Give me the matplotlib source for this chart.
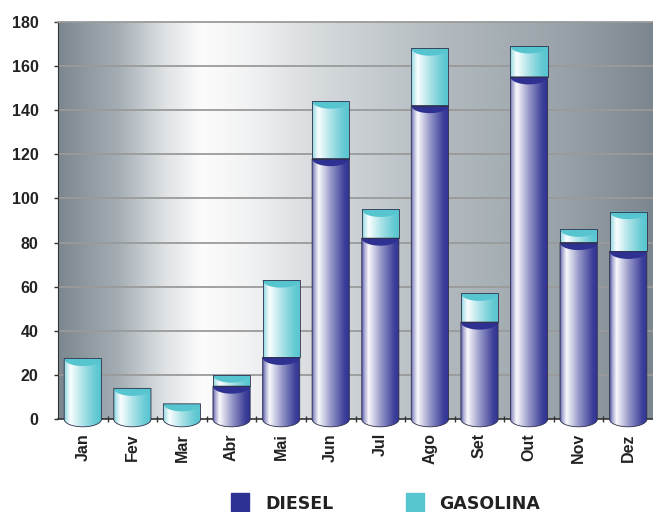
import numpy as np
import matplotlib
matplotlib.use('Agg')
import matplotlib.pyplot as plt
from matplotlib.patches import PathPatch, Polygon, Rectangle
from matplotlib.path import Path
from matplotlib.colors import to_rgb

months = ['Jan', 'Fev', 'Mar', 'Abr', 'Mai', 'Jun', 'Jul', 'Ago', 'Set', 'Out', 'Nov', 'Dez']
diesel = [0, 0, 0, 15, 28, 118, 82, 142, 44, 155, 80, 76]
gasolina = [27.5, 14, 7, 5, 35, 26, 13, 26, 13, 14, 6, 18]
yticks = list(range(0, 181, 20))

DIESEL_COLOR = '#2e3192'
GAS_COLOR = '#56c5d0'
BAR_W = 0.75
CAP_H = 3.4   # half height of the cylinder ellipses (data units)


def shade(color, n=80):
    # horizontal shading: highlight near the left edge, darker to the right
    t = np.linspace(0, 1, n)
    w = np.interp(t, [0, 0.05, 0.17, 0.5, 0.85, 1], [0.2, 0.55, 0.97, 0.5, 0.08, 0.0])
    c = np.array(to_rgb(color))
    rgb = c[None, :] * (1 - w[:, None]) + w[:, None]
    return rgb[None, :, :]


def background(n=200):
    t = np.linspace(0, 1, n)
    pts = [0, 0.1, 0.18, 0.24, 0.32, 0.45, 0.65, 0.85, 1]
    cols = ['#7c878f', '#a5aeb4', '#dfe3e6', '#fcfcfc', '#f1f2f3',
            '#d3d8db', '#b2babf', '#98a2a8', '#7b868e']
    cols = np.array([to_rgb(c) for c in cols])
    rgb = np.stack([np.interp(t, pts, cols[:, k]) for k in range(3)], axis=1)
    return rgb[None, :, :]


def cylinder(ax, x, y0, y1, color, round_bottom):
    left, right = x - BAR_W / 2, x + BAR_W / 2
    th = np.linspace(np.pi, 2 * np.pi, 40)
    verts = [(left, y1)]
    if round_bottom:
        verts += list(zip(x + BAR_W / 2 * np.cos(th), y0 + CAP_H * np.sin(th)))
    else:
        verts += [(left, y0), (right, y0)]
    verts += [(right, y1), (left, y1)]
    codes = [Path.MOVETO] + [Path.LINETO] * (len(verts) - 1)
    body = PathPatch(Path(verts, codes), facecolor='none', edgecolor='#30304a',
                     lw=0.6, zorder=3.2, clip_on=False)
    ax.add_patch(body)
    im = ax.imshow(shade(color), extent=[left, right, y0 - CAP_H, y1],
                   aspect='auto', interpolation='bilinear', zorder=3)
    # the rounded bottom hangs below the x axis, so clip to the shape only
    im.set_clip_box(ax.figure.bbox)
    im.set_clip_path(body)
    # top face seen from above
    cap = list(zip(x + BAR_W / 2 * np.cos(th), y1 + CAP_H * np.sin(th)))
    ax.add_patch(Polygon(cap, closed=True, facecolor=color, edgecolor='none',
                         zorder=3.1, clip_on=False))


fig = plt.figure(figsize=(6.53, 5.12), dpi=100)
ax = fig.add_axes([58 / 653, 1 - 419.3 / 512, 595 / 653, (419.3 - 21.7) / 512])

ax.imshow(background(), extent=[-0.5, 11.5, 0, 180], aspect='auto',
          interpolation='bilinear', zorder=0)
for v in yticks[1:-1]:
    ax.axhline(v, color='#9a9a9a', lw=1.3, zorder=1)

for i in range(len(months)):
    d, g = diesel[i], gasolina[i]
    if d > 0:
        cylinder(ax, i, 0, d, DIESEL_COLOR, True)
        cylinder(ax, i, d, d + g, GAS_COLOR, False)
    else:
        cylinder(ax, i, 0, g, GAS_COLOR, True)

ax.set_xlim(-0.5, 11.5)
ax.set_ylim(0, 180)

lab_font = dict(family='Liberation Sans', weight='bold', size=11.5)
ax.set_yticks(yticks)
ax.set_yticklabels([str(v) for v in yticks], **lab_font, color='#222222')
ax.set_xticks(range(len(months)))
ax.set_xticklabels(months, rotation=90, **lab_font, color='#222222')
ax.set_xticks(np.arange(0.5, 11, 1), minor=True)
ax.tick_params(axis='y', length=3, width=1, pad=11, color='#333333')
ax.tick_params(axis='x', which='major', length=0, pad=10)
ax.tick_params(axis='x', which='minor', length=5, width=1, direction='inout',
               color='#333333')

ax.spines['right'].set_visible(False)
ax.spines['top'].set_color('#9a9a9a')
ax.spines['top'].set_linewidth(1.3)
ax.spines['left'].set_color('#333333')
ax.spines['bottom'].set_color('#333333')
ax.spines['bottom'].set_linewidth(1.2)

# legend along the bottom edge
leg_font = dict(family='DejaVu Sans', weight='bold', size=12.5, color='#222222')
for sx, tx, col, name in [(231, 265, DIESEL_COLOR, 'DIESEL'),
                          (406, 439, GAS_COLOR, 'GASOLINA')]:
    fig.patches.append(Rectangle((sx / 653, 1 - 511 / 512), 18 / 653, 18 / 512,
                                 transform=fig.transFigure, color=col))
    fig.text(tx / 653, 1 - 509 / 512, name, va='baseline', ha='left', **leg_font)

fig.savefig('out.png', dpi=100)
